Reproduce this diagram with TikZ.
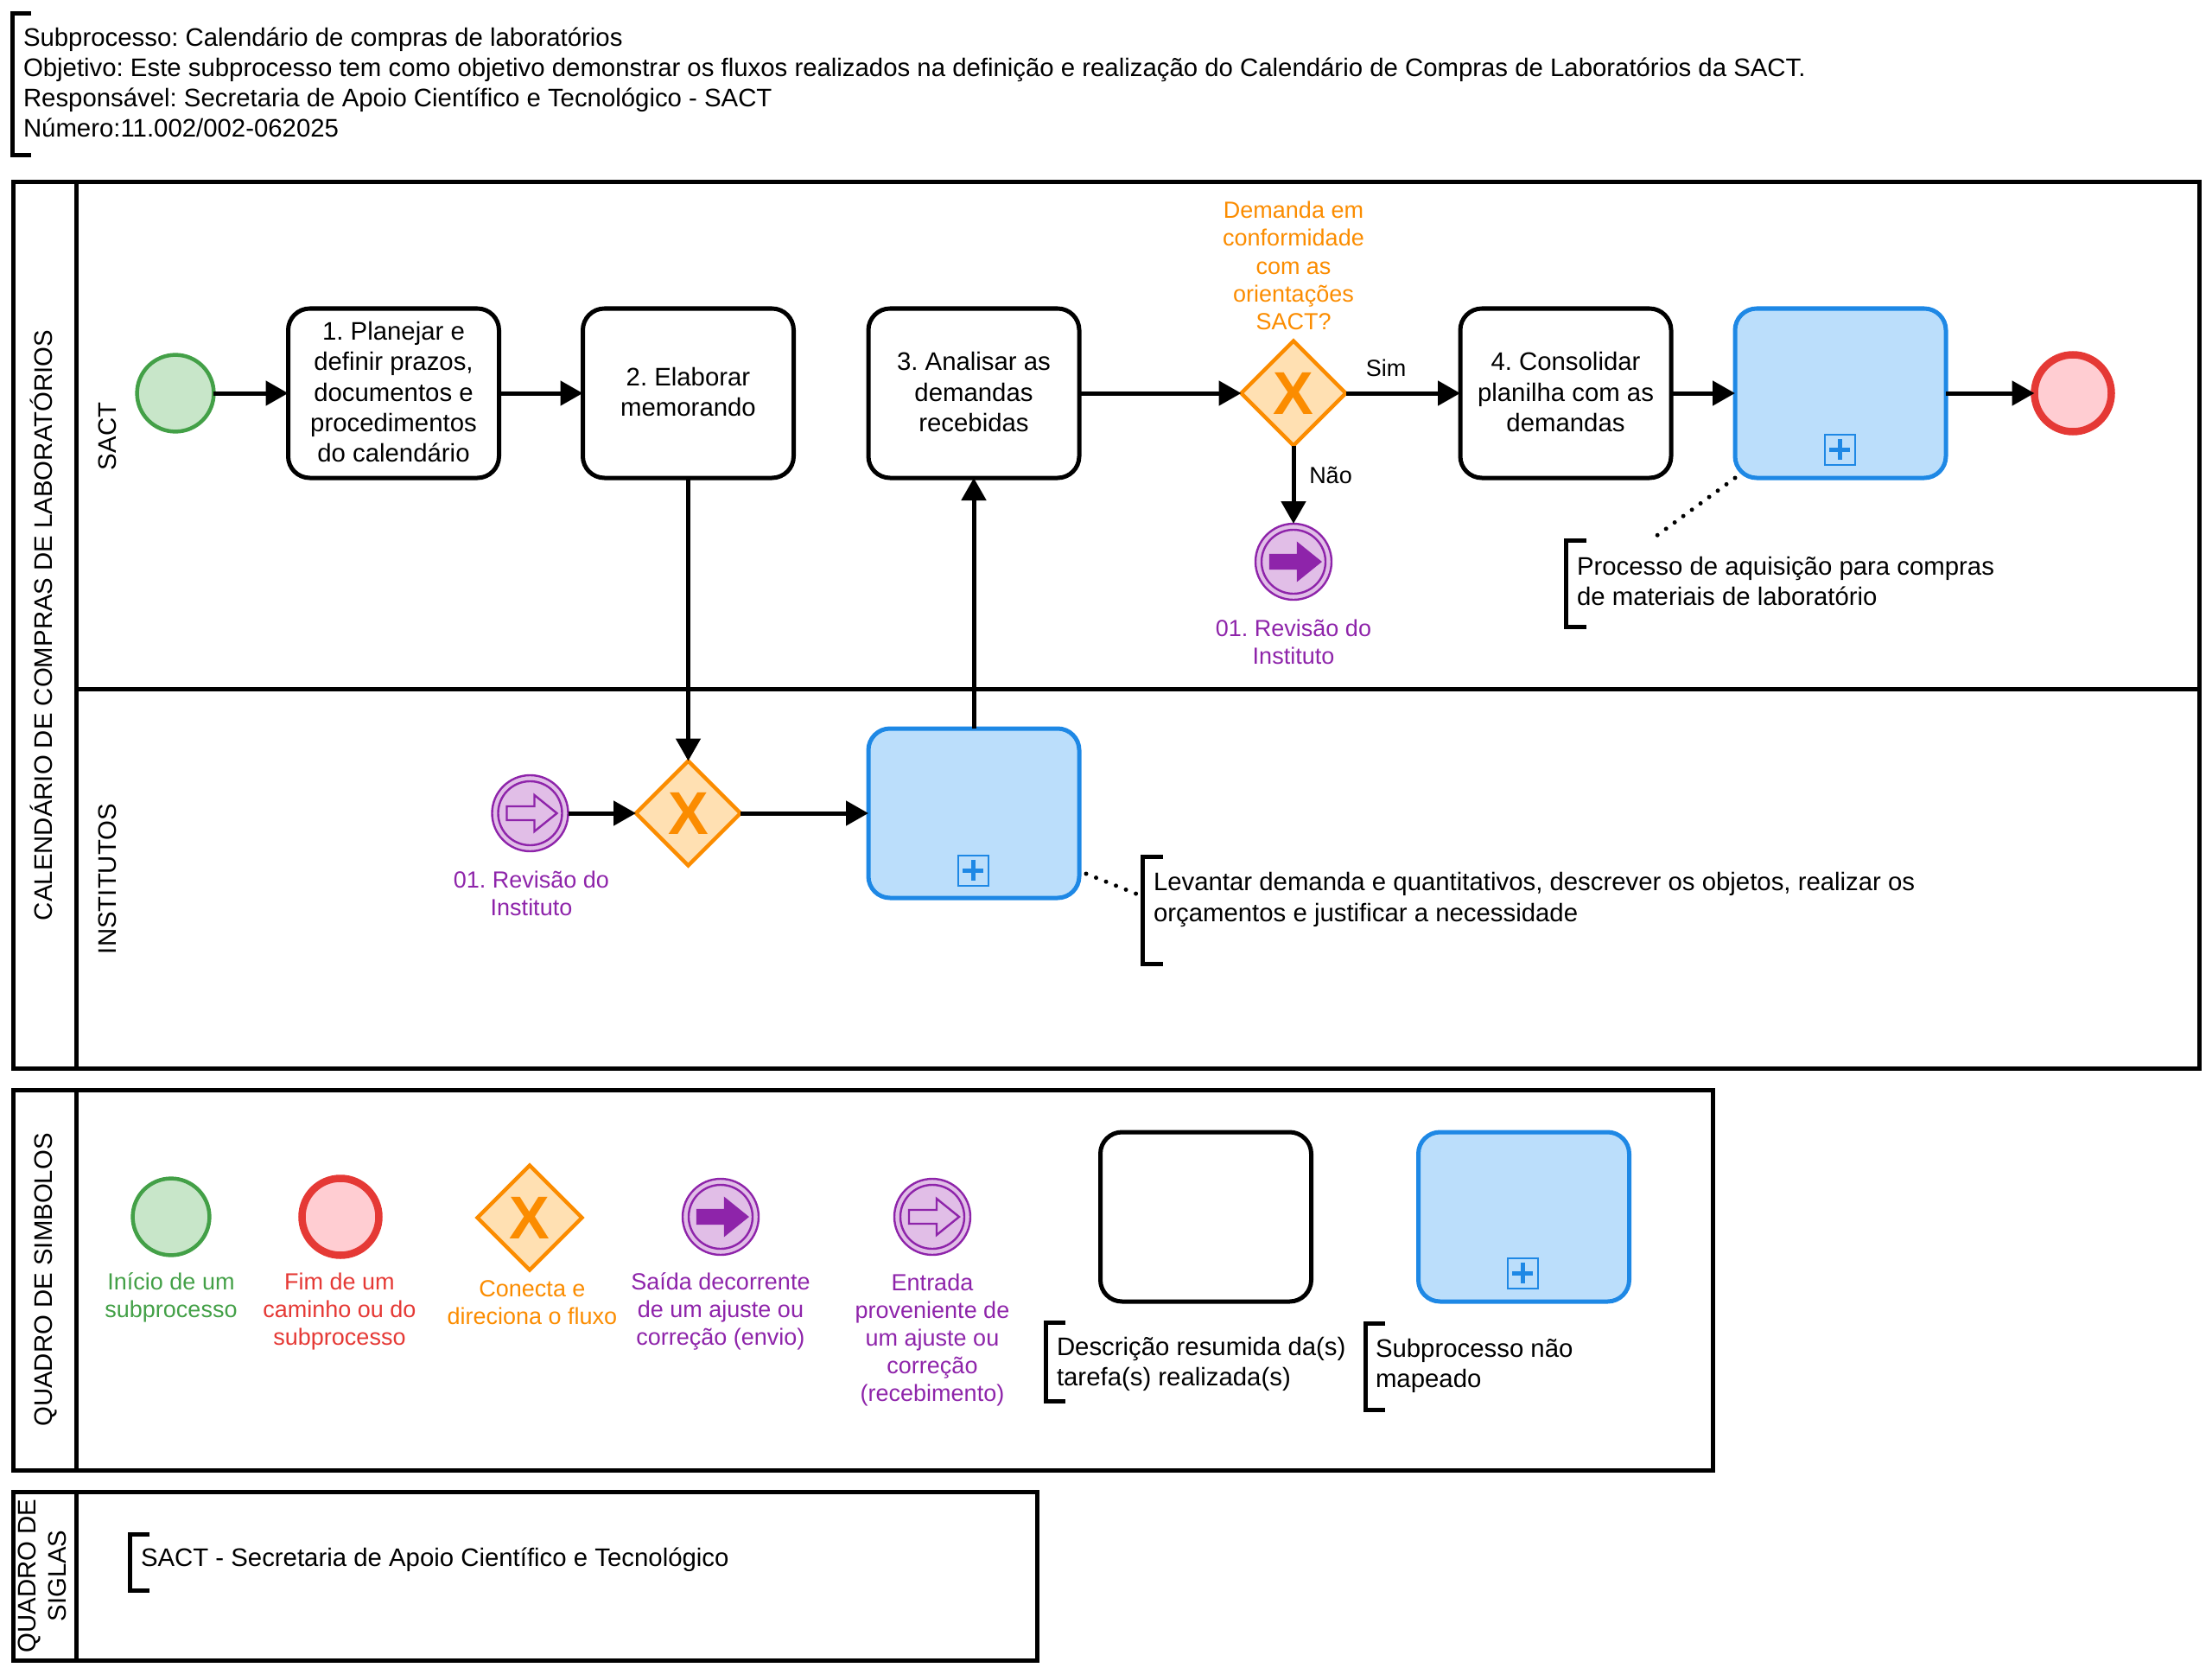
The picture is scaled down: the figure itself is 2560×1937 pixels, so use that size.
\documentclass[tikz,border=0pt]{standalone}
\usepackage{fontspec}
\setmainfont{Liberation Sans}
\frenchspacing
\usetikzlibrary{arrows.meta,shapes.geometric}
\definecolor{verde}{HTML}{43A047}
\definecolor{verdeclaro}{HTML}{C8E6C9}
\definecolor{vermelho}{HTML}{E53935}
\definecolor{vermelhoclaro}{HTML}{FFCDD2}
\definecolor{laranja}{HTML}{FB8C00}
\definecolor{laranjaclaro}{HTML}{FFE0B2}
\definecolor{azul}{HTML}{1E88E5}
\definecolor{azulclaro}{HTML}{BBDEFB}
\definecolor{roxo}{HTML}{8E24AA}
\definecolor{roxoclaro}{HTML}{E1BEE7}
\newcommand{\fontegrande}{\fontsize{14.68}{17.6}\selectfont}
\newcommand{\fontepequena}{\fontsize{13.5}{16.1}\selectfont}
\tikzset{
  every node/.style={inner sep=0pt,outer sep=0pt,font=\fontegrande},
  faixa/.style={draw,line width=2.5pt,rectangle,rotate=90,align=center},
  raia/.style={draw,line width=2.5pt,rectangle},
  tarefa/.style={draw,line width=2.5pt,rectangle,rounded corners=12.5pt,align=center,minimum width=122pt,minimum height=98pt,text depth=1.6pt},
  subproc/.style={tarefa,draw=azul,fill=azulclaro},
  marca/.style={draw=azul,line width=1pt,rectangle,minimum size=17.5pt},
  inicio/.style={draw=verde,fill=verdeclaro,line width=2.25pt,circle,minimum size=44.4pt},
  fim/.style={draw=vermelho,fill=vermelhoclaro,line width=4.25pt,circle,minimum size=44.5pt},
  evento/.style={draw=roxo,fill=roxoclaro,line width=1.2pt,circle,minimum size=44pt},
  eventoin/.style={draw=roxo,line width=1.2pt,circle,minimum size=37pt},
  porta/.style={draw=laranja,fill=laranjaclaro,line width=2.25pt,diamond,minimum size=60.5pt,text=laranja,font=\fontsize{35}{35}\selectfont\bfseries},
  fluxo/.style={line width=2.5pt,-{Triangle[length=13pt,width=14pt]}},
  pontos/.style={line width=2.5pt,line cap=round,dash pattern=on 0pt off 6.2pt},
  colchete/.style={line width=2.5pt},
  rotulo/.style={font=\fontepequena,align=center},
  nota/.style={anchor=west,align=left}
}
\newcommand{\setaev}[2]{\draw[draw=roxo,line width=1.2pt,fill=#2,shift={(#1.center)}] (-27,-8) -- (5,-8) -- (5,-21) -- (31,0) -- (5,21) -- (5,8) -- (-27,8) -- cycle;}
\newcommand{\mais}[1]{\draw[azul,line width=2.5pt,shift={(#1.center)}] (-12,0) -- (12,0) (0,-12) -- (0,12);}
\begin{document}
\begin{tikzpicture}[x=.5pt,y=-.5pt]
\useasboundingbox (0,0) rectangle (2560,1937);
\draw[colchete] (36,16) -- (14,16) -- (14,180) -- (36,180);
\node (cabecalho) at (27,95.5) [nota] {Subprocesso: Calendário de compras de laboratórios\\Objetivo: Este subprocesso tem como objetivo demonstrar os fluxos realizados na definição e realização do Calendário de Compras de Laboratórios da SACT.\\Responsável: Secretaria de Apoio Científico e Tecnológico - SACT\\Número:11.002/002-062025};
\node (faixa1) at (51.5,723.5) [faixa,minimum width=512.5pt,minimum height=36.5pt,text height=10.5pt,text depth=1pt] {CALENDÁRIO DE COMPRAS DE LABORATÓRIOS};
\node (raia1) at (1316.5,504) [raia,minimum width=1228.5pt,minimum height=293pt] {};
\node (raia2) at (1316.5,1016.5) [raia,minimum width=1228.5pt,minimum height=219.5pt] {};
\node (sact) at (124,505) [rotate=90] {SACT};
\node (inst) at (124,1017) [rotate=90] {INSTITUTOS};
\node (ini) at (203,455) [inicio] {};
\node (t1) at (455.5,455) [tarefa] {1. Planejar e\\definir prazos,\\documentos e\\procedimentos\\do calendário};
\node (t2) at (796.5,455) [tarefa] {2. Elaborar\\memorando};
\node (t3) at (1127,455) [tarefa] {3. Analisar as\\demandas\\recebidas};
\node (g1) at (1497,455) [porta] {X};
\node (g1txt) at (1497,307.5) [rotulo,text=laranja] {Demanda em\\conformidade\\com as\\orientações\\SACT?};
\node (t4) at (1812,455) [tarefa] {4. Consolidar\\planilha com as\\demandas};
\node (sp1) at (2130,455) [subproc] {};
\node (m1) at (2129,520) [marca] {};
\mais{m1}
\node (fim1) at (2399,455) [fim] {};
\node (ev1) at (1497,650) [evento] {};
\node (ev1in) at (1497,650) [eventoin] {};
\setaev{ev1}{roxo}
\node (ev1txt) at (1497,743) [rotulo,text=roxo] {01. Revisão do\\Instituto};
\node (sim) at (1604,426) [font=\fontepequena] {Sim};
\node (nao) at (1540,550) [font=\fontepequena] {Não};
\node (ev2) at (613.5,941) [evento] {};
\node (ev2in) at (613.5,941) [eventoin] {};
\setaev{ev2}{roxoclaro}
\node (ev2txt) at (615,1034) [rotulo,text=roxo] {01. Revisão do\\Instituto};
\node (g2) at (796.5,941) [porta] {X};
\node (sp2) at (1127,941) [subproc] {};
\node (m2) at (1126,1007) [marca] {};
\mais{m2}
\draw[fluxo] (ini) -- (t1);
\draw[fluxo] (t1) -- (t2);
\draw[fluxo] (t3) -- (g1);
\draw[fluxo] (g1) -- (t4);
\draw[fluxo] (t4) -- (sp1);
\draw[fluxo] (sp1) -- (fim1);
\draw[fluxo] (g1) -- (ev1);
\draw[fluxo] (t2) -- (g2);
\draw[fluxo] (ev2) -- (g2);
\draw[fluxo] (g2) -- (sp2);
\draw[fluxo] (sp2) -- (t3);
\coordinate (nota1) at (1909,626);
\draw[pontos] (sp1.south west) -- (nota1);
\draw[colchete] (1836,625) -- (1812,625) -- (1812,725) -- (1836,725);
\node (nota1txt) at (1825,672.5) [nota] {Processo de aquisição para compras\\de materiais de laboratório};
\coordinate (nota2) at (1322,1037);
\draw[pontos] ([shift={(8,-28)}]sp2.south east) -- (nota2);
\draw[colchete] (1346,991) -- (1322,991) -- (1322,1115) -- (1346,1115);
\node (nota2txt) at (1335,1041) [nota] {Levantar demanda e quantitativos, descrever os objetos, realizar os\\orçamentos e justificar a necessidade};
\node (faixa2) at (51.5,1481) [faixa,minimum width=220pt,minimum height=36.5pt,text height=10.5pt,text depth=1pt] {QUADRO DE SIMBOLOS};
\node (quadro) at (1035,1481) [raia,minimum width=947pt,minimum height=220pt] {};
\node (leg1) at (198,1408) [inicio] {};
\node (leg1txt) at (198,1501.5) [rotulo,text=verde] {Início de um\\subprocesso};
\node (leg2) at (394,1408) [fim] {};
\node (leg2txt) at (393,1517.5) [rotulo,text=vermelho] {Fim de um\\caminho ou do\\subprocesso};
\node (leg3) at (613,1409) [porta] {X};
\node (leg3txt) at (616,1507.5) [rotulo,text=laranja] {Conecta e\\direciona o fluxo};
\node (leg4) at (834,1408) [evento] {};
\node (leg4in) at (834,1408) [eventoin] {};
\setaev{leg4}{roxo}
\node (leg4txt) at (834,1517.5) [rotulo,text=roxo] {Saída decorrente\\de um ajuste ou\\correção (envio)};
\node (leg5) at (1079,1408) [evento] {};
\node (leg5in) at (1079,1408) [eventoin] {};
\setaev{leg5}{roxoclaro}
\node (leg5txt) at (1079,1550.5) [rotulo,text=roxo] {Entrada\\proveniente de\\um ajuste ou\\correção\\(recebimento)};
\node (leg6) at (1395.5,1408) [tarefa] {};
\node (leg7) at (1763.5,1408) [subproc] {};
\node (m3) at (1762,1473) [marca] {};
\mais{m3}
\draw[colchete] (1233,1530) -- (1210,1530) -- (1210,1621) -- (1233,1621);
\node (leg6txt) at (1223,1578.5) [nota] {Descrição resumida da(s)\\tarefa(s) realizada(s)};
\draw[colchete] (1603,1531) -- (1580,1531) -- (1580,1631) -- (1603,1631);
\node (leg7txt) at (1592,1580.5) [nota] {Subprocesso não\\mapeado};
\node (faixa3) at (51.5,1823.5) [faixa,minimum width=97.5pt,minimum height=36.5pt,text depth=3pt] {QUADRO DE\\SIGLAS};
\node (siglas) at (644,1823.5) [raia,minimum width=556pt,minimum height=97.5pt] {};
\draw[colchete] (173,1775) -- (150,1775) -- (150,1840) -- (173,1840);
\node (siglatxt) at (163,1805) [nota] {SACT - Secretaria de Apoio Científico e Tecnológico};
\end{tikzpicture}
\end{document}
